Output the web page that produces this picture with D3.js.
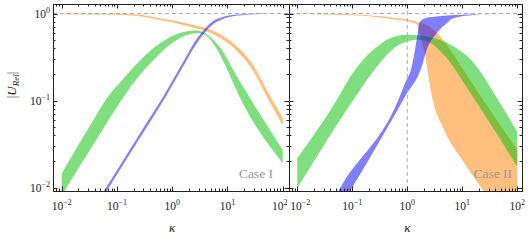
<!DOCTYPE html>
<html><head><meta charset="utf-8">
<script src="https://cdn.jsdelivr.net/npm/d3@7"></script>
<style>
html,body{margin:0;padding:0;background:#fff;}
svg{display:block;}
</style></head>
<body>
<svg id="chart" width="530" height="242" font-family="'Liberation Serif', 'Times New Roman', 'DejaVu Serif', serif"></svg>
<script>
// ---------- data (kappa, |U_Rel|) ----------
const xTickValues = [0.01, 0.1, 1, 10, 100];
const xTickExps = ["−2", "−1", "0", "1", "2"];
const yTickValues = [0.01, 0.1, 1];
const yTickExps = ["−2", "−1", "0"];
const panelNames = ["Case I", "Case II"];

// Case I
const orange1Upper = [[0.01,1],[0.1,1],[0.316,0.955],[0.5,0.902],[1,0.836],[2,0.759],[6.03,0.617],[13.8,0.437],[31.6,0.237],[50,0.138],[100,0.0638]];
const orange1Lower = [[0.01,0.977],[0.1,0.970],[0.316,0.912],[0.5,0.861],[1,0.791],[2,0.708],[6.03,0.562],[13.8,0.389],[31.6,0.202],[50,0.115],[100,0.0519]];
const green1Upper = [[0.01,0.0146],[0.0316,0.0501],[0.0676,0.1096],[0.126,0.174],[0.251,0.282],[0.5,0.417],[1,0.550],[2,0.631],[2.82,0.638],[3.98,0.589],[7.94,0.380],[14.1,0.1995],[24.5,0.112],[100,0.0271]];
const green1Lower = [[0.01,0.00813],[0.0316,0.0263],[0.14,0.116],[0.251,0.191],[0.5,0.309],[1,0.457],[2,0.575],[2.95,0.592],[3.98,0.562],[6.31,0.398],[10,0.224],[15.8,0.1175],[100,0.0191]];
const blue1Upper = [[0.0501,0.00785],[0.251,0.0403],[0.794,0.130],[1.585,0.279],[2.82,0.519],[3.98,0.679],[5.62,0.828],[7.94,0.908],[15.85,0.977],[39.8,0.998],[100,1]];
const blue1Lower = [[0.0501,0.0070],[0.251,0.0359],[0.794,0.116],[1.585,0.248],[2.82,0.462],[3.98,0.614],[5.62,0.762],[7.94,0.855],[15.85,0.946],[39.8,0.984],[100,0.998]];

// Case II
const orange2Upper = [[0.01,1],[0.1,0.982],[0.5,0.902],[1.29,0.826],[1.585,0.794],[2.51,0.708],[3.98,0.550],[7.94,0.295],[20.9,0.116],[100,0.0271]];
const orange2Lower = [[0.01,0.986],[0.1,0.955],[0.5,0.867],[1.29,0.785],[1.51,0.741],[1.78,0.501],[2.14,0.316],[2.40,0.1995],[2.78,0.116],[4.52,0.0481],[10.4,0.01995],[22.4,0.00984],[100,0.00251]];
const green2Upper = [[0.01,0.0219],[0.052,0.1016],[0.0908,0.186],[0.158,0.295],[0.278,0.412],[0.484,0.519],[1,0.569],[1.95,0.552],[3.94,0.497],[7.91,0.398],[15.85,0.275],[39.4,0.116],[100,0.044]];
const green2Lower = [[0.01,0.00984],[0.120,0.116],[0.251,0.224],[0.501,0.372],[1,0.479],[1.585,0.501],[2.51,0.468],[5.01,0.316],[14.8,0.116],[100,0.0174]];
const blue2Upper = [[0.0447,0.00708],[0.0597,0.00984],[0.686,0.1016],[0.908,0.158],[1.202,0.245],[1.380,0.381],[1.545,0.593],[1.652,0.771],[1.828,0.841],[2.57,0.904],[7.94,0.962],[31.6,0.986],[100,1]];
const blue2Lower = [[0.0708,0.00708],[0.0975,0.00984],[0.946,0.116],[1.828,0.245],[2.25,0.381],[3.42,0.593],[5.20,0.771],[6.85,0.881],[15.85,0.962],[41.7,0.993],[100,1]];

// ---------- layout ----------
const svg = d3.select("#chart");
const frameTop = 4, frameBottom = 191;
const y = d3.scaleLog().domain([0.01, 1]).range([187.7, 13.5]);
const panels = [
  {x: d3.scaleLog().domain([0.01, 100]).range([61.7, 282.7]), x0: 53, x1: 289,
   bands: [[orange1Upper, orange1Lower, "rgb(255,128,0)"], [green1Upper, green1Lower, "rgb(0,192,0)"], [blue1Upper, blue1Lower, "rgb(0,0,255)"]],
   vline: false, name: panelNames[0], labelShift: [0, 0, 0, 0, -3]},
  {x: d3.scaleLog().domain([0.01, 100]).range([297.3, 517.3]), x0: 289, x1: 522,
   bands: [[orange2Upper, orange2Lower, "rgb(255,128,0)"], [green2Upper, green2Lower, "rgb(0,192,0)"], [blue2Upper, blue2Lower, "rgb(0,0,255)"]],
   vline: true, name: panelNames[1], labelShift: [3, 0, 0, 0, 0]}
];

const defs = svg.append("defs");
panels.forEach((p, i) => {
  defs.append("clipPath").attr("id", "clip" + i).append("rect")
    .attr("x", p.x0).attr("y", frameTop).attr("width", p.x1 - p.x0).attr("height", frameBottom - frameTop);
});

function bandPath(x, upper, lower) {
  const line = d3.line().x(d => x(d[0])).y(d => y(d[1])).curve(d3.curveMonotoneX);
  const a = line(upper);
  const b = line(lower.slice().reverse());
  return a + "L" + b.slice(1) + "Z";
}

panels.forEach((p, i) => {
  const g = svg.append("g").attr("clip-path", `url(#clip${i})`);
  p.bands.forEach(([u, l, c]) => {
    g.append("path").attr("d", bandPath(p.x, u, l)).attr("fill", c).attr("fill-opacity", 0.5).attr("stroke", "none");
  });
  // dashed reference lines
  g.append("line").attr("x1", p.x0).attr("x2", p.x1).attr("y1", y(1)).attr("y2", y(1))
    .attr("stroke", "#9a9a9a").attr("stroke-opacity", 0.8).attr("stroke-width", 1).attr("stroke-dasharray", "4,3");
  if (p.vline) {
    g.append("line").attr("x1", p.x(1)).attr("x2", p.x(1)).attr("y1", frameTop).attr("y2", frameBottom)
      .attr("stroke", "#9a9a9a").attr("stroke-opacity", 0.8).attr("stroke-width", 1).attr("stroke-dasharray", "4,3");
  }

  // ticks
  const tg = svg.append("g").attr("stroke", "#222").attr("stroke-width", 1);
  const xmin = p.x.invert(p.x0), xmax = p.x.invert(p.x1);
  for (let n = -3; n <= 2; n++) for (let k = 1; k <= 9; k++) {
    const v = k * Math.pow(10, n);
    if (v < xmin || v > xmax) continue;
    const px = Math.round(p.x(v)) + 0.5;
    if (px < p.x0 + 1 || px > p.x1 - 1) continue;
    const len = k === 1 ? 4.5 : 2.5;
    tg.append("line").attr("x1", px).attr("x2", px).attr("y1", frameBottom).attr("y2", frameBottom - len);
    tg.append("line").attr("x1", px).attr("x2", px).attr("y1", frameTop).attr("y2", frameTop + len);
  }
  for (let n = -3; n <= 0; n++) for (let k = 1; k <= 9; k++) {
    const v = k * Math.pow(10, n);
    const py = Math.round(y(v)) + 0.5;
    if (py < frameTop + 1 || py > frameBottom - 1) continue;
    const len = k === 1 ? 4.5 : 2.5;
    tg.append("line").attr("x1", p.x0).attr("x2", p.x0 + len).attr("y1", py).attr("y2", py);
    tg.append("line").attr("x1", p.x1).attr("x2", p.x1 - len).attr("y1", py).attr("y2", py);
  }

  // x tick labels
  xTickValues.forEach((v, j) => {
    const t = svg.append("text").attr("x", p.x(v) + p.labelShift[j]).attr("y", 210).attr("text-anchor", "middle")
      .attr("font-size", 11.5).attr("fill", "#222");
    t.append("tspan").text("10");
    t.append("tspan").attr("dy", -5).attr("font-size", 8).text(xTickExps[j]);
  });
  // x axis title
  svg.append("text").attr("x", p.x(1)).attr("y", 232).attr("text-anchor", "middle")
    .attr("font-size", 13).attr("font-style", "italic").attr("fill", "#222").text("κ");
  // case label
  svg.append("text").attr("x", p.x1 - (i === 0 ? 16 : 10)).attr("y", 178).attr("text-anchor", "end")
    .attr("font-size", 13.5).attr("fill", "#999").text(p.name);
});

// frames
panels.forEach(p => {
  svg.append("rect").attr("x", p.x0 + 0.5).attr("y", frameTop + 0.5).attr("width", p.x1 - p.x0)
    .attr("height", frameBottom - frameTop).attr("fill", "none").attr("stroke", "#222").attr("stroke-width", 1);
});

// y tick labels (left panel)
yTickValues.forEach((v, j) => {
  const t = svg.append("text").attr("x", 50).attr("y", y(v) + 4).attr("text-anchor", "end")
    .attr("font-size", 11.5).attr("fill", "#222");
  t.append("tspan").text("10");
  t.append("tspan").attr("dy", -5).attr("font-size", 8).text(yTickExps[j]);
});

// y axis title |U_Rel|
const yt = svg.append("text").attr("transform", "translate(16,85) rotate(-90)").attr("text-anchor", "middle")
  .attr("font-size", 13).attr("fill", "#222");
yt.append("tspan").text("|");
yt.append("tspan").attr("font-style", "italic").text("U");
yt.append("tspan").attr("font-style", "italic").attr("font-size", 9).attr("dy", 3).text("Rel");
yt.append("tspan").attr("dy", -3).text("|");
</script>
</body></html>
